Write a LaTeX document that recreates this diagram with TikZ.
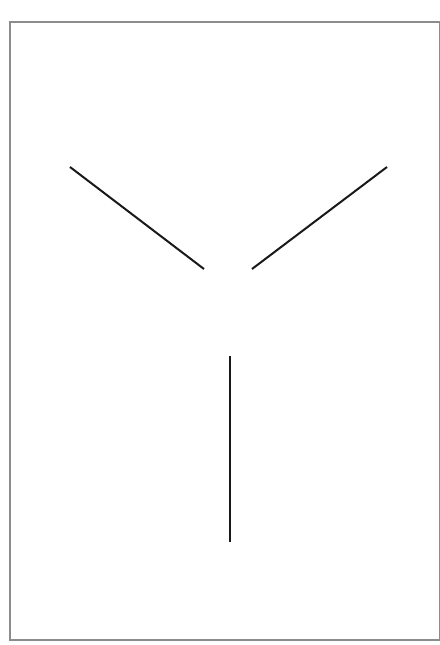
\documentclass[tikz,border=0pt]{standalone}
\begin{document}
\begin{tikzpicture}[x=1pt,y=-1pt,
  frame/.style={draw=black!45,line width=1.4pt},
  stroke/.style={draw=black!90,line width=2pt}]
\useasboundingbox[fill=white] (0,0) rectangle (439,645);
\draw[frame] (10,22) rectangle (440,640);
\coordinate (l1) at (70,167);
\coordinate (l2) at (204,269);
\coordinate (r1) at (387,167);
\coordinate (r2) at (252,269);
\coordinate (v1) at (230,356);
\coordinate (v2) at (230,542);
\draw[stroke] (l1) -- (l2);
\draw[stroke] (r1) -- (r2);
\draw[stroke] (v1) -- (v2);
\end{tikzpicture}
\end{document}
